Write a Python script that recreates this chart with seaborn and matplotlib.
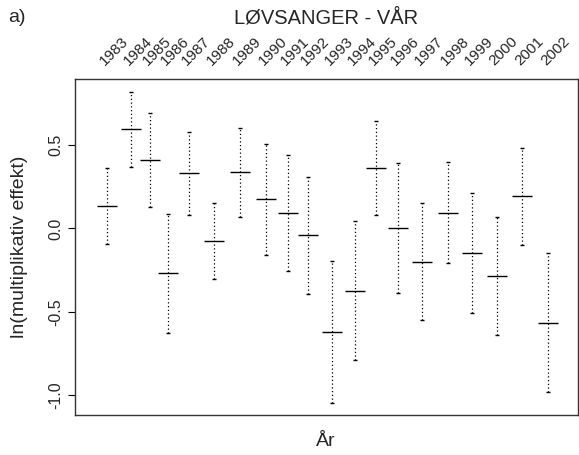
import matplotlib
matplotlib.use("Agg")
import matplotlib.pyplot as plt
import seaborn as sns
import pandas as pd
import numpy as np

# ---- data ----
years = ["1983", "1984", "1985", "1986", "1987", "1988", "1989", "1990", "1991", "1992",
         "1993", "1994", "1995", "1996", "1997", "1998", "1999", "2000", "2001", "2002"]
xpos = [32.0, 56.0, 75.3, 93.0, 114.3, 139.3, 165.6, 191.0, 213.3, 233.6,
        257.6, 280.6, 301.6, 323.0, 347.3, 373.0, 397.0, 422.0, 447.6, 473.3]
estimate = [0.132, 0.594, 0.408, -0.270, 0.330, -0.076, 0.336, 0.174, 0.094, -0.040,
            -0.620, -0.372, 0.362, 0.000, -0.200, 0.094, -0.146, -0.284, 0.192, -0.564]
upper = [0.360, 0.820, 0.690, 0.086, 0.580, 0.152, 0.604, 0.508, 0.440, 0.308,
         -0.196, 0.042, 0.644, 0.392, 0.152, 0.400, 0.212, 0.070, 0.482, -0.150]
lower = [-0.094, 0.366, 0.128, -0.626, 0.080, -0.300, 0.066, -0.160, -0.254, -0.390,
         -1.044, -0.786, 0.080, -0.384, -0.550, -0.208, -0.508, -0.636, -0.098, -0.978]
yticks = [-1.0, -0.5, 0.0, 0.5]
ytick_labels = ["-1.0", "-0.5", "0.0", "0.5"]

df = pd.DataFrame({"year": years, "x": xpos, "est": estimate, "lo": lower, "hi": upper})

sns.set_theme(style="white")
plt.rcParams["font.family"] = ["Liberation Sans", "DejaVu Sans"]

fig = plt.figure(figsize=(5.79, 4.55), dpi=100)
ax = fig.add_axes([74.7 / 579, 1 - 415 / 455, (577.7 - 74.7) / 579, (415 - 79.3) / 455])

# dotted interval lines
ax.vlines(df["x"], df["lo"], df["hi"], colors="black", linewidth=0.9,
          linestyles=(0, (1, 2)))
# caps
caps = pd.concat([df[["x", "lo"]].rename(columns={"lo": "y"}),
                  df[["x", "hi"]].rename(columns={"hi": "y"})])
sns.scatterplot(data=caps, x="x", y="y", marker="_", s=12, color="black",
                linewidth=1.0, ax=ax, legend=False)
# estimates
sns.scatterplot(data=df, x="x", y="est", marker="_", s=210, color="black",
                linewidth=1.0, ax=ax, legend=False)

ymin, ymax = min(lower), max(upper)
pad = 0.04 * (ymax - ymin)
ax.set_ylim(ymin - pad, ymax + pad)
ax.set_xlim(0, 503)

# top year labels
ax.xaxis.tick_top()
ax.set_xticks(df["x"])
ax.set_xticklabels(df["year"], fontsize=11)
ax.tick_params(axis="x", length=0, pad=8)
plt.setp(ax.get_xticklabels(), rotation=45, ha="left", va="bottom",
         rotation_mode="anchor")

ax.set_yticks(yticks)
ax.set_yticklabels(ytick_labels, fontsize=11.5, rotation=90, va="center")
ax.tick_params(axis="y", left=True, length=5, width=0.8, color="black", pad=3)

ax.set_xlabel("")
ax.set_ylabel("")
for sp in ax.spines.values():
    sp.set_color("#333333")
    sp.set_linewidth(1.0)

fig.text(326 / 579, 1 - 441 / 455, "År", fontsize=14, ha="center", va="center")
fig.text(20 / 579, 1 - 247 / 455, "ln(multiplikativ effekt)", fontsize=14,
         rotation=90, ha="center", va="center")
fig.text(326 / 579, 1 - 18 / 455, "LØVSANGER - VÅR", fontsize=14.5,
         ha="center", va="center")
fig.text(8 / 579, 1 - 18 / 455, "a)", fontsize=14, ha="left", va="center")

fig.savefig("out.png", dpi=100)
